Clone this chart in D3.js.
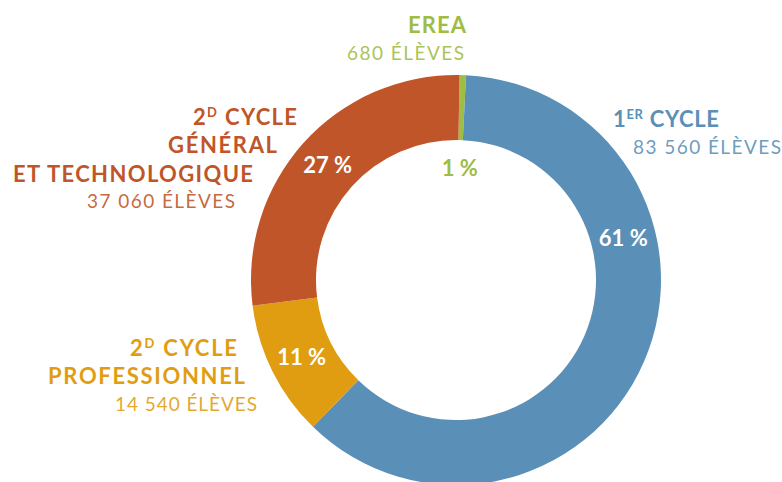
<!DOCTYPE html>
<html>
<head>
<meta charset="utf-8">
<script src="https://cdn.jsdelivr.net/npm/d3@7"></script>
<style>
    body { margin: 0; background: #fff; }
    text { font-family: Lato, "Open Sans", sans-serif; }
</style>
</head>
<body>
<div class="canvas"></div>
<script>
//===============Data===========================//
const categories = ['EREA', '1er cycle', '2d cycle professionnel', '2d cycle général et technologique'];
const eleves = [680, 83560, 14540, 37060];
const percentLabels = ['1 %', '61 %', '11 %', '27 %'];
const eleveLabels = ['680 ÉLÈVES', '83 560 ÉLÈVES', '14 540 ÉLÈVES', '37 060 ÉLÈVES'];

//===============Visualization set up===========================//
const width = 782;
const height = 482;
const center = { x: 456, y: 280 };
const outerRadius = 205;
const innerRadius = 140;

const svg = d3.select('.canvas')
    .append('svg')
    .attr('width', width)
    .attr('height', height);

const graph = svg.append('g')
    .attr('transform', `translate(${center.x},${center.y})`);

const color = d3.scaleOrdinal()
    .domain(categories)
    .range(['#9fbc44', '#5a90b7', '#e09d12', '#c0552a']);

const pie = d3.pie()
    .sort(null)
    .startAngle(Math.PI / 180)
    .endAngle(2 * Math.PI + Math.PI / 180)
    .value(d => d.value);

const arc = d3.arc()
    .innerRadius(innerRadius)
    .outerRadius(outerRadius);

const data = categories.map((c, i) => ({ name: c, value: eleves[i], pct: percentLabels[i] }));
const arcs = pie(data);

//===================Slices=================//
graph.selectAll('path')
    .data(arcs)
    .enter()
    .append('path')
    .attr('d', arc)
    .attr('fill', d => color(d.data.name));

//===================Percent labels=================//
const midRadius = (innerRadius + outerRadius) / 2;
const labelPos = d => {
    // EREA slice is too thin, its label sits inside the hole
    const r = d.index === 0 ? 112 : midRadius;
    const a = d.index === 1
        ? d.startAngle + (d.endAngle - d.startAngle) * 0.33
        : (d.startAngle + d.endAngle) / 2;
    return [r * Math.sin(a), -r * Math.cos(a)];
};

graph.selectAll('text.pct')
    .data(arcs)
    .enter()
    .append('text')
    .attr('class', 'pct')
    .attr('x', d => labelPos(d)[0])
    .attr('y', d => labelPos(d)[1])
    .attr('dy', '0.36em')
    .attr('text-anchor', 'middle')
    .attr('font-size', 22)
    .attr('font-weight', 700)
    .attr('fill', d => d.index === 0 ? color(d.data.name) : '#fff')
    .text(d => d.data.pct);

//===================Category labels=================//
// title lines: x = left edge, y = baseline, w = width
const titles = [
    { i: 0, lines: [{ t: 'EREA', x: 408, y: 33, w: 58 }] },
    { i: 1, lines: [{ t: '1', sup: 'ER', rest: ' CYCLE', x: 613, y: 127, w: 106 }] },
    { i: 2, lines: [
        { t: '2', sup: 'D', rest: ' CYCLE', x: 130, y: 356, w: 107 },
        { t: 'PROFESSIONNEL', x: 48, y: 384, w: 197 }] },
    { i: 3, lines: [
        { t: '2', sup: 'D', rest: ' CYCLE', x: 193, y: 125, w: 104 },
        { t: 'GÉNÉRAL', x: 168, y: 153, w: 109 },
        { t: 'ET TECHNOLOGIQUE', x: 13, y: 182, w: 240 }] }
];
const subs = [
    { i: 0, x: 347, y: 60, w: 117 },
    { i: 1, x: 633, y: 154, w: 148 },
    { i: 2, x: 115, y: 411, w: 142 },
    { i: 3, x: 87, y: 208, w: 148 }
];

titles.forEach(g => {
    g.lines.forEach(l => {
        const txt = svg.append('text')
            .attr('x', l.x)
            .attr('y', l.y)
            .attr('font-size', 22)
            .attr('font-weight', 700)
            .attr('fill', color(categories[g.i]))
            .attr('textLength', l.w)
            .attr('lengthAdjust', 'spacing');
        txt.append('tspan').text(l.t);
        if (l.sup) {
            txt.append('tspan')
                .attr('font-size', 13)
                .attr('dy', -8)
                .text(l.sup);
            txt.append('tspan')
                .attr('dy', 8)
                .text(l.rest);
        }
    });
});

svg.selectAll('text.sub')
    .data(subs)
    .enter()
    .append('text')
    .attr('class', 'sub')
    .attr('x', d => d.x)
    .attr('y', d => d.y)
    .attr('font-size', 19)
    .attr('font-weight', 400)
    .attr('fill', d => color(categories[d.i]))
    .attr('fill-opacity', 0.9)
    .attr('textLength', d => d.w)
    .attr('lengthAdjust', 'spacing')
    .text(d => eleveLabels[d.i]);
</script>
</body>
</html>
